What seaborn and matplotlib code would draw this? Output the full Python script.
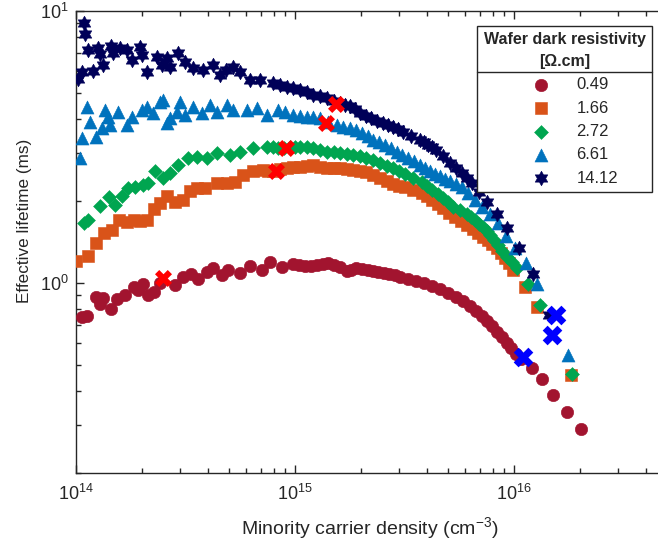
# ================================================================
# 0. Section: IMPORTS
# ================================================================
import numpy as np
import pandas as pd
import matplotlib
matplotlib.use("Agg")
import matplotlib.pyplot as plt
import seaborn as sns

from matplotlib.path import Path
from matplotlib.ticker import LogLocator, NullFormatter


# ================================================================
# 1. Section: DATA (carrier density in cm^-3, lifetime in ms)
# ================================================================
resistivities = ['0.49', '1.66', '2.72', '6.61', '14.12']

n_049 = [1.07e14, 1.12e14, 1.23e14, 1.29e14, 1.33e14, 1.44e14, 1.54e14, 1.67e14, 1.84e14, 1.92e14,
         2.03e14, 2.14e14, 2.28e14, 2.42e14, 2.83e14, 3.09e14, 3.35e14, 3.62e14, 3.95e14, 4.24e14,
         4.63e14, 4.96e14, 5.61e14, 6.23e14, 7.05e14, 7.69e14, 8.69e14, 9.82e14, 1.11e15, 1.26e15,
         1.42e15, 1.60e15, 1.72e15, 1.91e15, 2.15e15, 2.39e15, 2.69e15, 3.01e15, 3.28e15, 3.57e15,
         3.88e15, 4.22e15, 4.59e15, 5.00e15, 5.44e15, 5.85e15, 6.30e15, 6.70e15, 7.14e15, 7.57e15,
         7.98e15, 8.41e15, 8.81e15, 9.29e15, 9.74e15, 1.02e16, 1.08e16, 1.21e16, 1.35e16, 1.51e16,
         1.74e16, 2.02e16,
         1.04e15, 1.18e15, 1.34e15, 1.51e15, 1.81e15, 2.02e15, 2.27e15, 2.54e15, 2.85e15]
tau_049 = [0.752, 0.757, 0.891, 0.837, 0.879, 0.800, 0.873, 0.904, 0.964, 0.943,
           0.992, 0.904, 0.927, 1.00, 0.983, 1.05, 1.08, 1.03, 1.10, 1.13,
           1.07, 1.12, 1.09, 1.15, 1.12, 1.19, 1.14, 1.17, 1.15, 1.16,
           1.18, 1.14, 1.11, 1.13, 1.12, 1.10, 1.08, 1.05, 1.035, 1.017,
           0.996, 0.971, 0.946, 0.919, 0.889, 0.855, 0.823, 0.789, 0.756, 0.725,
           0.692, 0.661, 0.631, 0.602, 0.574, 0.548, 0.526, 0.488, 0.442, 0.388,
           0.335, 0.290,
           1.16, 1.15, 1.17, 1.16, 1.12, 1.125, 1.11, 1.09, 1.065]

n_166 = [1.00e14, 1.13e14, 1.23e14, 1.34e14, 1.46e14, 1.58e14, 1.71e14, 1.84e14, 1.96e14, 2.12e14,
         2.28e14, 2.42e14, 2.60e14, 2.83e14, 3.09e14, 3.32e14, 3.56e14, 3.88e14, 4.39e14, 4.88e14,
         5.32e14, 5.81e14, 6.45e14, 7.17e14, 7.94e14, 9.17e14, 1.05e15, 1.21e15, 1.40e15, 1.60e15,
         1.85e15, 2.11e15, 2.44e15, 2.80e15, 3.18e15, 3.79e15, 4.21e15, 4.76e15, 5.38e15, 6.08e15,
         6.87e15, 7.63e15, 8.34e15, 9.10e15, 9.93e15, 1.12e16, 1.28e16, 1.82e16,
         7.55e14, 8.55e14, 9.80e14, 1.13e15, 1.30e15, 1.50e15, 1.72e15, 1.98e15, 2.27e15, 2.62e15,
         2.98e15, 3.47e15, 4.00e15, 4.48e15, 5.06e15, 5.72e15, 6.47e15, 7.24e15, 7.98e15, 8.71e15,
         9.50e15]
tau_166 = [1.20, 1.26, 1.40, 1.52, 1.57, 1.71, 1.68, 1.70, 1.69, 1.70,
           1.87, 1.96, 2.08, 1.99, 2.02, 2.18, 2.23, 2.23, 2.33, 2.34,
           2.36, 2.49, 2.57, 2.60, 2.58, 2.64, 2.68, 2.72, 2.64, 2.64,
           2.60, 2.56, 2.43, 2.31, 2.25, 2.14, 2.02, 1.88, 1.75, 1.63,
           1.52, 1.44, 1.34, 1.23, 1.12, 0.969, 0.815, 0.459,
           2.59, 2.62, 2.66, 2.70, 2.68, 2.64, 2.62, 2.58, 2.50, 2.37,
           2.28, 2.20, 2.08, 1.95, 1.81, 1.69, 1.58, 1.48, 1.39, 1.29,
           1.18]

n_272 = [1.09e14, 1.14e14, 1.29e14, 1.42e14, 1.51e14, 1.62e14, 1.73e14, 1.86e14, 2.02e14, 2.14e14,
         2.30e14, 2.50e14, 2.69e14, 2.93e14, 3.26e14, 3.56e14, 3.95e14, 4.39e14, 5.05e14, 5.61e14,
         6.45e14, 7.43e14, 8.36e14, 9.49e14, 1.05e15, 1.21e15, 1.40e15, 1.60e15, 1.85e15, 2.11e15,
         2.44e15, 2.80e15, 3.18e15, 3.79e15, 4.21e15, 4.76e15, 5.28e15, 6.08e15, 6.64e15, 7.25e15,
         7.77e15, 8.48e15, 9.26e15, 1.03e16, 1.16e16, 1.31e16, 1.84e16,
         7.90e14, 8.90e14, 9.97e14, 1.13e15, 1.30e15, 1.50e15, 1.72e15, 1.98e15, 2.27e15, 2.62e15,
         2.98e15, 3.47e15, 4.00e15, 4.48e15, 5.02e15, 5.66e15, 6.36e15, 6.94e15, 7.51e15, 8.12e15,
         8.86e15, 9.75e15]
tau_272 = [1.66, 1.71, 1.92, 2.07, 1.94, 2.08, 2.23, 2.26, 2.29, 2.33,
           2.57, 2.43, 2.53, 2.71, 2.87, 2.91, 2.87, 3.00, 2.96, 3.04,
           3.13, 3.17, 3.13, 3.16, 3.17, 3.13, 3.04, 3.00, 2.96, 2.88,
           2.75, 2.65, 2.52, 2.36, 2.20, 2.05, 1.91, 1.80, 1.70, 1.61,
           1.50, 1.38, 1.25, 1.13, 0.992, 0.830, 0.462,
           3.15, 3.14, 3.17, 3.15, 3.09, 3.02, 2.98, 2.92, 2.82, 2.70,
           2.58, 2.44, 2.28, 2.12, 1.98, 1.85, 1.75, 1.65, 1.55, 1.44,
           1.31, 1.19]

n_661 = [1.04e14, 1.06e14, 1.12e14, 1.16e14, 1.24e14, 1.31e14, 1.35e14, 1.40e14, 1.43e14, 1.56e14,
         1.71e14, 1.80e14, 2.00e14, 2.10e14, 2.25e14, 2.42e14, 2.50e14, 2.60e14, 2.69e14, 2.88e14,
         2.98e14, 3.15e14, 3.43e14, 3.75e14, 4.09e14, 4.39e14, 4.88e14, 5.23e14, 6.01e14, 6.68e14,
         7.43e14, 8.39e14, 9.82e14, 1.13e15, 1.30e15, 1.55e15, 1.78e15, 2.02e15, 2.28e15, 2.58e15,
         2.91e15, 3.28e15, 3.72e15, 4.13e15, 4.59e15, 5.10e15, 5.77e15, 6.18e15, 6.64e15, 7.12e15,
         7.77e15, 8.48e15, 9.19e15, 1.01e16, 1.13e16, 1.28e16, 1.77e16,
         9.00e14, 1.05e15, 1.21e15, 1.42e15, 1.66e15, 1.90e15, 2.15e15, 2.43e15, 2.74e15, 3.09e15,
         3.50e15, 3.92e15, 4.36e15, 4.84e15, 5.43e15]
tau_661 = [2.87, 3.40, 4.43, 3.92, 3.45, 3.71, 4.33, 4.09, 3.81, 4.26,
           3.81, 4.09, 4.33, 4.45, 4.21, 4.64, 4.71, 3.87, 4.03, 4.26,
           4.64, 4.15, 4.45, 4.21, 4.51, 4.26, 4.51, 4.33, 4.33, 4.39,
           4.15, 4.33, 4.15, 4.09, 4.03, 3.81, 3.71, 3.56, 3.36, 3.22,
           3.04, 2.88, 2.72, 2.58, 2.47, 2.37, 2.26, 2.14, 2.02, 1.91,
           1.80, 1.66, 1.49, 1.34, 1.18, 0.992, 0.544,
           4.24, 4.12, 4.06, 3.92, 3.76, 3.64, 3.46, 3.29, 3.13, 2.96,
           2.80, 2.65, 2.52, 2.42, 2.31]

n_1412 = [1.02e14, 1.06e14, 1.09e14, 1.10e14, 1.13e14, 1.20e14, 1.26e14, 1.29e14, 1.33e14, 1.44e14,
          1.48e14, 1.59e14, 1.71e14, 1.80e14, 1.95e14, 2.00e14, 2.12e14, 2.34e14, 2.46e14, 2.60e14,
          2.69e14, 2.93e14, 3.15e14, 3.43e14, 3.81e14, 4.24e14, 4.55e14, 4.84e14, 5.23e14, 5.61e14,
          6.23e14, 6.92e14, 7.96e14, 9.17e14, 1.05e15, 1.21e15, 1.40e15, 1.60e15, 1.78e15, 1.98e15,
          2.22e15, 2.53e15, 2.80e15, 3.12e15, 3.72e15, 4.05e15, 4.43e15, 5.10e15, 5.77e15, 6.43e15,
          6.92e15, 7.55e15, 8.39e15, 9.31e15, 1.06e16, 1.22e16, 1.45e16,
          8.50e14, 9.80e14, 1.13e15, 1.30e15, 1.50e15, 1.69e15, 1.88e15, 2.10e15, 2.37e15, 2.66e15,
          2.96e15, 3.40e15, 3.88e15, 4.24e15, 4.76e15, 5.43e15, 6.10e15]
tau_1412 = [5.61, 5.98, 9.01, 8.20, 7.19, 6.03, 7.29, 6.93, 6.33, 7.43,
            6.99, 7.29, 7.19, 6.61, 7.39, 6.89, 5.98, 6.79, 6.33, 6.70,
            6.24, 7.03, 6.51, 6.15, 6.07, 6.33, 5.82, 6.07, 6.24, 5.98,
            5.58, 5.58, 5.42, 5.27, 5.12, 4.91, 4.78, 4.58, 4.48, 4.21,
            4.04, 3.87, 3.73, 3.60, 3.36, 3.22, 3.08, 2.75, 2.53, 2.33,
            2.16, 1.99, 1.80, 1.59, 1.34, 1.08, 0.763,
            5.35, 5.20, 5.02, 4.85, 4.68, 4.53, 4.35, 4.12, 3.95, 3.80,
            3.67, 3.48, 3.29, 3.15, 2.92, 2.64, 2.43]

# highlighted points
n_red = [2.49e14, 8.18e14, 9.10e14, 1.39e15, 1.54e15]
tau_red = [1.04, 2.57, 3.13, 3.88, 4.55]
n_blue = [1.10e16, 1.49e16, 1.56e16]
tau_blue = [0.533, 0.644, 0.763]


# ================================================================
# 2. Section: STYLE
# ================================================================
sns.set_style("ticks")
text_color = '#262626'
plt.rcParams['font.family'] = ['Liberation Sans', 'DejaVu Sans']
plt.rcParams['mathtext.fontset'] = 'custom'
plt.rcParams['mathtext.rm'] = 'Liberation Sans'
plt.rcParams['mathtext.it'] = 'Liberation Sans:italic'
plt.rcParams['mathtext.bf'] = 'Liberation Sans:bold'
plt.rcParams['axes.axisbelow'] = False

hexagram = Path.unit_regular_star(6, innerCircle=0.577)

colors = ['#A2142F', '#D95319', '#00A550', '#0072BD', '#000058']
markers = ['o', 's', 'D', '^', hexagram]
sizes = [80, 68, 50, 88, 110]
n_all = [n_049, n_166, n_272, n_661, n_1412]
tau_all = [tau_049, tau_166, tau_272, tau_661, tau_1412]


# ================================================================
# 3. Section: PLOT
# ================================================================
fig = plt.figure(figsize=(6.58, 5.46), dpi=100)
ax = fig.add_axes([76 / 658, 73 / 546, 582 / 658, 462 / 546])

for label, n, tau, color, marker, size in zip(resistivities, n_all, tau_all, colors, markers, sizes):
    df = pd.DataFrame({'n': n, 'tau': tau}).sort_values('n')
    sns.scatterplot(data=df, x='n', y='tau', ax=ax, color=color, marker=marker,
                    s=size, linewidth=0.4, edgecolor=color, label=label, zorder=3)

sns.scatterplot(x=n_red, y=tau_red, ax=ax, color='#FF0000', marker='X', s=150, linewidth=0, zorder=4)
sns.scatterplot(x=n_blue, y=tau_blue, ax=ax, color='#0000FF', marker='X', s=200, linewidth=0, zorder=4)

# Axes formatting
ax.set_xscale('log')
ax.set_yscale('log')
ax.set_xlim(1e14, 4.55e16)
ax.set_ylim(0.2, 10)

for axis in (ax.xaxis, ax.yaxis):
    axis.set_major_locator(LogLocator(base=10, numticks=10))
    axis.set_minor_locator(LogLocator(base=10, subs=np.arange(2, 10), numticks=30))
    axis.set_minor_formatter(NullFormatter())

ax.tick_params(which='both', direction='in', bottom=True, left=True, top=True, right=False,
               color=text_color, labelcolor=text_color, labelsize=13, width=1)
ax.tick_params(which='major', length=6)
ax.tick_params(which='minor', length=3.5)
ax.tick_params(axis='x', pad=8)
ax.tick_params(axis='y', pad=5)

for side in ['left', 'bottom', 'top']:
    ax.spines[side].set_visible(True)
    ax.spines[side].set_color(text_color)
    ax.spines[side].set_linewidth(1)
ax.spines['right'].set_visible(False)

ax.set_xlabel('Minority carrier density (cm$^{-3}$)', fontsize=14, color=text_color)
ax.set_ylabel('Effective lifetime (ms)', fontsize=12.3, color=text_color)
ax.xaxis.set_label_coords(0.505, -0.091)
ax.yaxis.set_label_coords(-0.076, 0.545)

# Legend
leg = ax.legend(title='Wafer dark resistivity\n[\u03a9.cm]', loc='upper right',
                bbox_to_anchor=(652 / 658, 1 - 26 / 546), bbox_transform=fig.transFigure,
                borderaxespad=0, fontsize=12, title_fontproperties={'weight': 'bold', 'size': 11.5},
                frameon=True, fancybox=False, framealpha=1, edgecolor=text_color,
                alignment='center', handlelength=3.5, handletextpad=0.4,
                labelspacing=0.5, borderpad=0.38)
leg.get_frame().set_linewidth(1)
leg.get_title().set_multialignment('center')
leg.get_title().set_linespacing(1.55)
leg.set_zorder(10)

# separator line between legend title and entries
fig.canvas.draw()
renderer = fig.canvas.get_renderer()
lb = leg.get_frame().get_window_extent(renderer)
tb = leg.get_title().get_window_extent(renderer)
eb = leg.get_texts()[0].get_window_extent(renderer)
inv = ax.transAxes.inverted()
x0, y_sep = inv.transform((lb.x0, 0.5 * (tb.y0 + eb.y1) + 1))
x1, _ = inv.transform((lb.x1, 0.5 * (tb.y0 + eb.y1) + 1))
ax.plot([x0, x1], [y_sep, y_sep], transform=ax.transAxes, color=text_color,
        lw=1, zorder=11, clip_on=False)

fig.savefig('out.png', dpi=100)
